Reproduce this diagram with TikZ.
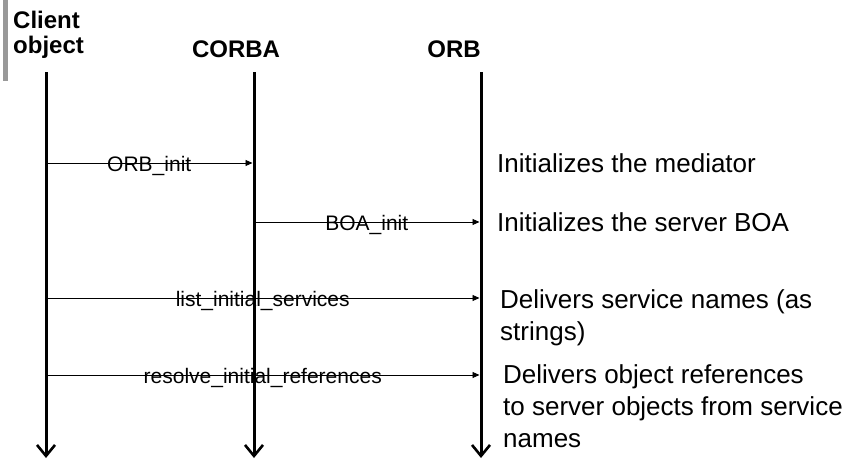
\documentclass[tikz,border=0pt]{standalone}
\usepackage{fontspec}
\setmainfont{Liberation Sans}
\usetikzlibrary{arrows.meta}
\begin{document}
\begin{tikzpicture}[x=1pt, y=-1pt,
    lifeline/.style={line width=3pt, -{Straight Barb[length=11pt, width=18pt, line width=2.6pt]}},
    msg/.style={line width=0.9pt, -{Triangle[length=7pt, width=6pt]}},
    msglabel/.style={midway, anchor=base, yshift=-8pt, inner sep=0pt, font=\fontsize{21}{24}\selectfont},
    hdr/.style={inner sep=0pt, anchor=base, font=\fontsize{24}{25}\selectfont\bfseries},
    note/.style={anchor=west, inner sep=0pt, align=left, font=\fontsize{26}{32}\selectfont}]
    \useasboundingbox (0,0) rectangle (852,463);

    \fill[black!40] (3,0) rectangle (8,81);

    % headers (base = last line)
    \node[hdr, anchor=base west, align=left] (client) at (13,53) {Client\\object};
    \node[hdr] (corba) at (236,57) {CORBA};
    \node[hdr] (orb) at (454,57) {ORB};

    \coordinate (c top) at (46,72);
    \coordinate (c bot) at (46,458);
    \coordinate (k top) at (254,72);
    \coordinate (k bot) at (254,458);
    \coordinate (o top) at (481,72);
    \coordinate (o bot) at (481,458);

    \draw[lifeline] (c top) -- (c bot);
    \draw[lifeline] (k top) -- (k bot);
    \draw[lifeline] (o top) -- (o bot);

    \draw[msg] (46,163) -- (252.5,163) node[msglabel] (orbinit) {ORB\_init};
    \draw[msg] (254,222) -- (479.5,222) node[msglabel] (boainit) {BOA\_init};
    \draw[msg] (46,298) -- (479.5,298) node[msglabel] (listsvc) {list\_initial\_services};
    \draw[msg] (46,375) -- (479.5,375) node[msglabel] (resolve) {resolve\_initial\_references};

    \node[note] (n1) at (497,163) {Initializes the mediator};
    \node[note] (n2) at (497,222) {Initializes the server BOA};
    \node[note, anchor=base west] (n3) at (500,340) {Delivers service names (as\\strings)};
    \node[note, anchor=base west] (n4) at (503,447) {Delivers object references\\to server objects from service\\names};
\end{tikzpicture}
\end{document}
